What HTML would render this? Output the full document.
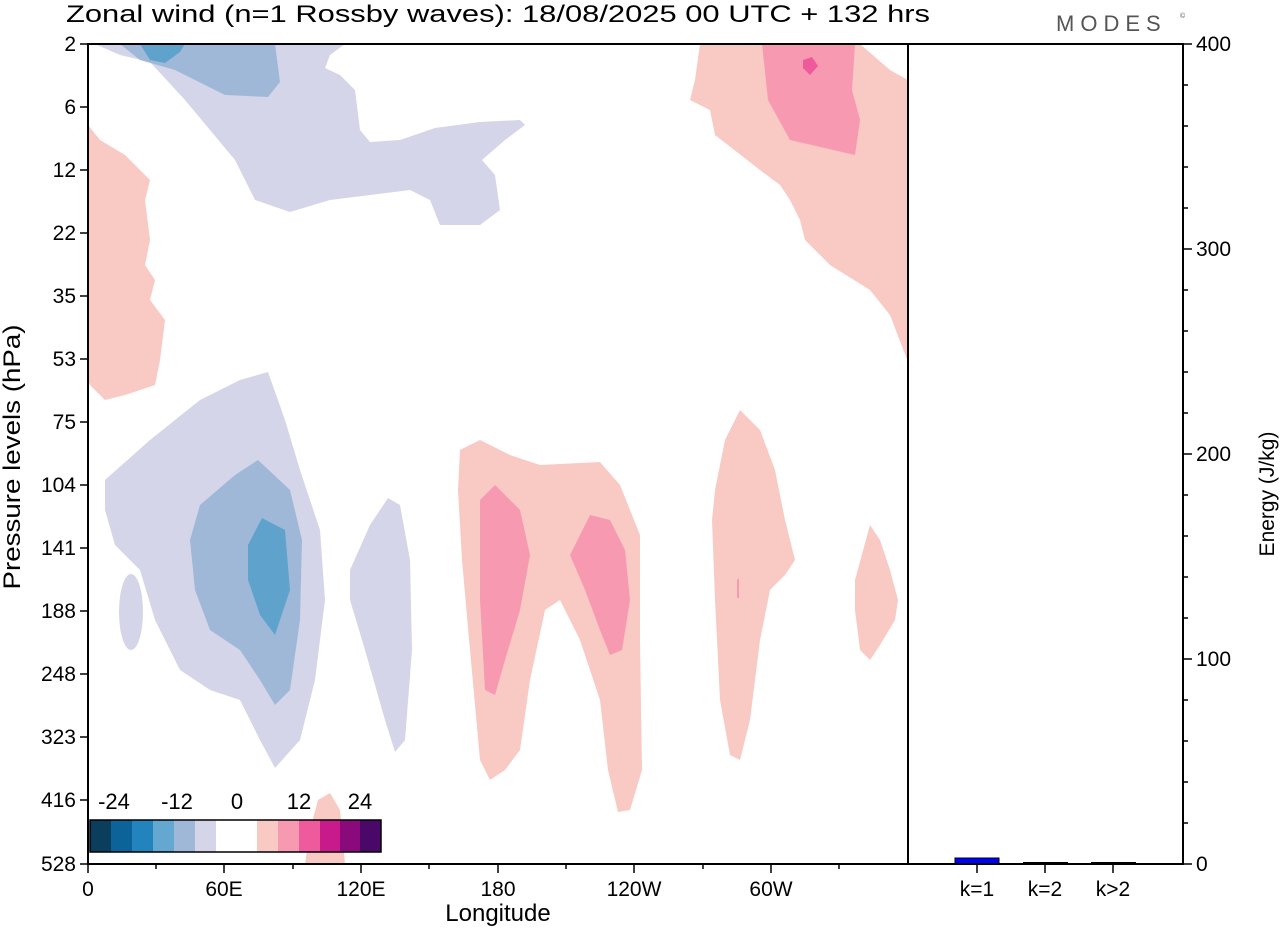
<!DOCTYPE html>
<html><head><meta charset="utf-8"><style>
html,body{margin:0;padding:0;background:#fff;}
svg{display:block;font-family:"Liberation Sans",Arial,sans-serif;}
</style></head><body>
<svg width="1280" height="930" viewBox="0 0 1280 930">
<rect width="1280" height="930" fill="#fff"/>
<text x="66" y="22" font-size="24" fill="#000" textLength="864" lengthAdjust="spacingAndGlyphs">Zonal wind (n=1 Rossby waves):  18/08/2025  00 UTC  + 132 hrs</text>
<text x="1056" y="31" font-size="22" fill="#555" letter-spacing="6">MODES</text>
<text x="1180" y="18" font-size="7" fill="#555">©</text>

<g>
<path d="M95,44 L120,55 L150,62 L185,100 L210,130 L235,160 L255,200 L290,212 L330,200 L370,195 L410,190 L430,200 L440,225 L480,225 L500,210 L495,175 L482,160 L505,140 L525,125 L520,120 L480,122 L435,128 L400,140 L370,142 L360,130 L355,90 L340,75 L325,68 L330,55 L345,44 Z" fill="#d4d5e8"/>
<path d="M120,44 L140,60 L175,70 L225,95 L268,97 L280,82 L275,44 Z" fill="#a0b8d8"/>
<path d="M140,44 L150,60 L165,63 L180,52 L185,44 Z" fill="#5fa3cc"/>
<path d="M88,125 L100,140 L125,155 L150,180 L145,200 L150,240 L145,265 L155,280 L150,300 L165,320 L160,360 L155,385 L125,395 L105,400 L90,385 L88,380 Z" fill="#f9c9c4"/>
<path d="M700,44 L695,80 L690,100 L710,110 L715,135 L760,170 L780,185 L790,200 L800,220 L805,240 L830,265 L870,290 L890,315 L908,362 L908,80 L890,70 L860,44 Z" fill="#f9c9c4"/>
<path d="M762,44 L768,100 L790,140 L855,155 L860,120 L852,90 L855,44 Z" fill="#f79ab1"/>
<path d="M803,60 L812,57 L818,66 L810,75 L803,68 Z" fill="#ef5a9c"/>
<path d="M105,480 L150,440 L200,400 L240,380 L268,372 L285,420 L300,470 L320,530 L325,600 L315,680 L300,740 L275,768 L260,740 L240,700 L210,690 L180,670 L155,620 L140,570 L115,545 L105,510 Z" fill="#d4d5e8"/>
<ellipse cx="131" cy="612" rx="12" ry="38" fill="#d4d5e8"/>
<path d="M200,505 L235,475 L258,460 L290,490 L302,540 L300,620 L290,690 L275,705 L260,680 L240,650 L210,630 L195,590 L190,540 Z" fill="#a0b8d8"/>
<path d="M248,545 L262,518 L285,530 L290,590 L275,635 L260,615 L248,580 Z" fill="#5fa3cc"/>
<path d="M350,570 L370,525 L388,498 L400,505 L410,560 L412,650 L405,740 L395,752 L385,720 L365,650 L350,600 Z" fill="#d4d5e8"/>
<path d="M460,450 L480,440 L510,455 L540,465 L600,462 L620,485 L640,535 L640,640 L642,770 L630,810 L618,812 L608,770 L600,700 L580,640 L560,600 L545,610 L530,680 L520,750 L505,770 L490,780 L480,760 L470,650 L462,560 L458,490 Z" fill="#f9c9c4"/>
<path d="M480,500 L495,485 L520,510 L530,555 L520,610 L505,660 L495,695 L485,690 L480,600 Z" fill="#f79ab1"/>
<path d="M570,555 L590,515 L610,520 L625,550 L630,600 L622,650 L610,655 L600,630 L585,590 Z" fill="#f79ab1"/>
<path d="M715,490 L725,440 L740,410 L760,430 L775,470 L785,520 L795,560 L785,575 L770,590 L760,640 L750,720 L740,760 L730,755 L720,700 L715,600 L712,520 Z" fill="#f9c9c4"/>
<path d="M737,580 L739,578 L739,598 L737,598 Z" fill="#f79ab1"/>
<path d="M855,580 L870,525 L880,540 L890,570 L898,600 L895,620 L880,645 L870,660 L860,650 L855,610 Z" fill="#f9c9c4"/>
<path d="M310,830 L318,800 L330,793 L340,810 L345,864 L305,864 Z" fill="#f9c9c4"/>
</g>

<g>
<rect x="90" y="820" width="21" height="32" fill="#0b3d5c"/>
<rect x="111" y="820" width="21" height="32" fill="#0c6399"/>
<rect x="132" y="820" width="21" height="32" fill="#2383bc"/>
<rect x="153" y="820" width="21" height="32" fill="#64a7d0"/>
<rect x="174" y="820" width="21" height="32" fill="#a0b8d8"/>
<rect x="195" y="820" width="21" height="32" fill="#d4d5e8"/>
<rect x="216" y="820" width="41" height="32" fill="#fff"/>
<rect x="257" y="820" width="21" height="32" fill="#f9c9c4"/>
<rect x="278" y="820" width="21" height="32" fill="#f79ab1"/>
<rect x="299" y="820" width="21" height="32" fill="#ef5a9c"/>
<rect x="320" y="820" width="20" height="32" fill="#c81a8a"/>
<rect x="340" y="820" width="20" height="32" fill="#8a0a7c"/>
<rect x="360" y="820" width="21" height="32" fill="#4a0868"/>
<rect x="90" y="820" width="291" height="32" fill="none" stroke="#000" stroke-width="1.5"/>
<g font-size="22" text-anchor="middle">
<text x="114" y="809">-24</text><text x="177" y="809">-12</text><text x="237" y="809">0</text><text x="299" y="809">12</text><text x="360" y="809">24</text>
</g>
</g>

<rect x="955" y="858" width="44" height="6" fill="#0000ff" stroke="#000" stroke-width="1"/>
<rect x="1023" y="862" width="45" height="2" fill="#000"/>
<rect x="1091" y="862" width="45" height="2" fill="#000"/>

<g stroke="#000" stroke-width="2" fill="none">
<rect x="88" y="44" width="1095" height="820"/>
<line x1="908" y1="44" x2="908" y2="864"/>
</g>
<g stroke="#000" stroke-width="1.5">
<line x1="80" y1="44" x2="88" y2="44"/><line x1="80" y1="107" x2="88" y2="107"/><line x1="80" y1="170" x2="88" y2="170"/><line x1="80" y1="233" x2="88" y2="233"/><line x1="80" y1="296" x2="88" y2="296"/><line x1="80" y1="359" x2="88" y2="359"/><line x1="80" y1="422" x2="88" y2="422"/><line x1="80" y1="485" x2="88" y2="485"/><line x1="80" y1="548" x2="88" y2="548"/><line x1="80" y1="611" x2="88" y2="611"/><line x1="80" y1="674" x2="88" y2="674"/><line x1="80" y1="737" x2="88" y2="737"/><line x1="80" y1="800" x2="88" y2="800"/><line x1="80" y1="864" x2="88" y2="864"/>
<line x1="88" y1="864" x2="88" y2="873"/><line x1="156" y1="864" x2="156" y2="869"/><line x1="224" y1="864" x2="224" y2="873"/><line x1="293" y1="864" x2="293" y2="869"/><line x1="361" y1="864" x2="361" y2="873"/><line x1="429" y1="864" x2="429" y2="869"/><line x1="498" y1="864" x2="498" y2="873"/><line x1="566" y1="864" x2="566" y2="869"/><line x1="634" y1="864" x2="634" y2="873"/><line x1="703" y1="864" x2="703" y2="869"/><line x1="771" y1="864" x2="771" y2="873"/><line x1="839" y1="864" x2="839" y2="869"/>
<line x1="977" y1="864" x2="977" y2="873"/><line x1="1045" y1="864" x2="1045" y2="873"/><line x1="1113" y1="864" x2="1113" y2="873"/>
<line x1="1183" y1="44" x2="1192" y2="44"/><line x1="1183" y1="249" x2="1192" y2="249"/><line x1="1183" y1="454" x2="1192" y2="454"/><line x1="1183" y1="659" x2="1192" y2="659"/><line x1="1183" y1="864" x2="1192" y2="864"/>
<line x1="1183" y1="85" x2="1188" y2="85"/><line x1="1183" y1="126" x2="1188" y2="126"/><line x1="1183" y1="167" x2="1188" y2="167"/><line x1="1183" y1="208" x2="1188" y2="208"/>
<line x1="1183" y1="290" x2="1188" y2="290"/><line x1="1183" y1="331" x2="1188" y2="331"/><line x1="1183" y1="372" x2="1188" y2="372"/><line x1="1183" y1="413" x2="1188" y2="413"/>
<line x1="1183" y1="495" x2="1188" y2="495"/><line x1="1183" y1="536" x2="1188" y2="536"/><line x1="1183" y1="577" x2="1188" y2="577"/><line x1="1183" y1="618" x2="1188" y2="618"/>
<line x1="1183" y1="700" x2="1188" y2="700"/><line x1="1183" y1="741" x2="1188" y2="741"/><line x1="1183" y1="782" x2="1188" y2="782"/><line x1="1183" y1="823" x2="1188" y2="823"/>
</g>

<g font-size="21" text-anchor="end">
<text x="76" y="51">2</text><text x="76" y="114">6</text><text x="76" y="177">12</text><text x="76" y="240">22</text><text x="76" y="303">35</text><text x="76" y="366">53</text><text x="76" y="429">75</text><text x="76" y="492">104</text><text x="76" y="555">141</text><text x="76" y="618">188</text><text x="76" y="681">248</text><text x="76" y="744">323</text><text x="76" y="807">416</text><text x="76" y="871">528</text>
</g>
<g font-size="21" text-anchor="middle">
<text x="88" y="896">0</text><text x="224" y="896">60E</text><text x="361" y="896">120E</text><text x="498" y="896">180</text><text x="634" y="896">120W</text><text x="771" y="896">60W</text>
<text x="977" y="896">k=1</text><text x="1045" y="896">k=2</text><text x="1113" y="896">k&gt;2</text>
</g>
<text x="498" y="921" font-size="24" text-anchor="middle">Longitude</text>
<g font-size="21">
<text x="1196" y="51">400</text><text x="1196" y="256">300</text><text x="1196" y="461">200</text><text x="1196" y="666">100</text><text x="1196" y="871">0</text>
</g>
<text transform="translate(20,457) rotate(-90)" font-size="24" text-anchor="middle" textLength="265" lengthAdjust="spacingAndGlyphs">Pressure levels (hPa)</text>
<text transform="translate(1274,494) rotate(-90)" font-size="21" text-anchor="middle">Energy (J/kg)</text>
</svg>
</body></html>
